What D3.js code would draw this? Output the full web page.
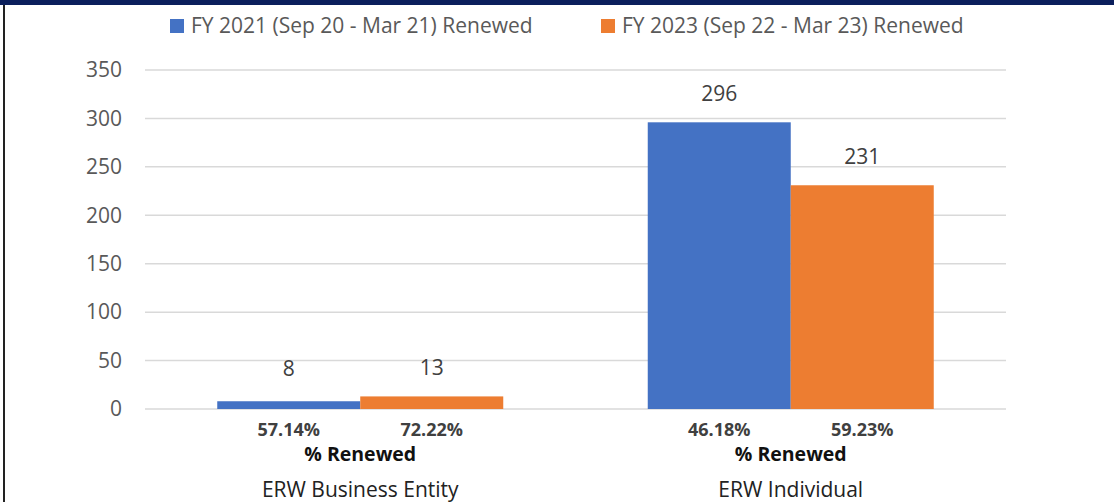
<!DOCTYPE html>
<html>
<head>
<meta charset="utf-8">
<title>ERW Renewals</title>
<script src="https://d3js.org/d3.v7.min.js"></script>
<style>
body { margin: 0; background: #fff; }
svg text { font-family: "Open Sans", "Noto Sans", sans-serif; }
</style>
</head>
<body>
<script>
var width = 1114, height = 502;

var categories = ["ERW Business Entity", "ERW Individual"];
var seriesNames = ["FY 2021 (Sep 20 - Mar 21) Renewed", "FY 2023 (Sep 22 - Mar 23) Renewed"];
var fy2021 = [8, 296];
var fy2023 = [13, 231];
var pct2021 = ["57.14%", "46.18%"];
var pct2023 = ["72.22%", "59.23%"];
var yTicks = [0, 50, 100, 150, 200, 250, 300, 350];
var colors = ["#4472c4", "#ed7d31"];

var margin = {left: 145, right: 108, top: 70, bottom: 93};

var svg = d3.select("body").append("svg")
  .attr("width", width)
  .attr("height", height);

// frame
svg.append("rect").attr("x", 0).attr("y", 0).attr("width", width).attr("height", 5).attr("fill", "#0b1f5c");
svg.append("rect").attr("x", 3).attr("y", 5).attr("width", 2).attr("height", height - 5).attr("fill", "#222");

var x0 = d3.scaleBand().domain(categories)
  .range([margin.left, width - margin.right]);
// each pair of bars is 286px wide, centered in its band
var x1 = d3.scaleBand().domain([0, 1])
  .range([(x0.bandwidth() - 286) / 2, (x0.bandwidth() + 286) / 2]).padding(0);

var y = d3.scaleLinear().domain([0, 350])
  .range([height - margin.bottom, margin.top]);

// gridlines
svg.append("g").selectAll("line").data(yTicks).enter().append("line")
  .attr("x1", margin.left).attr("x2", width - margin.right)
  .attr("y1", d => y(d)).attr("y2", d => y(d))
  .attr("stroke", "#d9d9d9").attr("stroke-width", 1.5);

// y axis labels
var yAxis = d3.axisLeft(y).tickValues(yTicks).tickSize(0).tickPadding(0);
var ya = svg.append("g").attr("transform", "translate(" + (margin.left - 23) + ",0)").call(yAxis);
ya.select(".domain").remove();
ya.selectAll("text").attr("font-size", 21).attr("fill", "#595959")
  .style("font-family", "'Open Sans', sans-serif");

var rows = categories.map((c, i) => ({cat: c, vals: [fy2021[i], fy2023[i]], pcts: [pct2021[i], pct2023[i]]}));

var grp = svg.append("g").selectAll("g").data(rows).enter().append("g")
  .attr("transform", d => "translate(" + x0(d.cat) + ",0)");

grp.selectAll("rect").data(d => d.vals).enter().append("rect")
  .attr("x", (v, j) => x1(j))
  .attr("width", x1.bandwidth())
  .attr("y", v => y(v))
  .attr("height", v => y(0) - y(v))
  .attr("fill", (v, j) => colors[j]);

grp.selectAll("text.val").data(d => d.vals).enter().append("text")
  .attr("class", "val")
  .attr("x", (v, j) => x1(j) + x1.bandwidth() / 2)
  .attr("y", v => Math.min(y(v) - 21, y(0) - 33))
  .attr("text-anchor", "middle")
  .attr("font-size", 21).attr("fill", "#404040")
  .text(v => v);

grp.selectAll("text.pct").data(d => d.pcts).enter().append("text")
  .attr("class", "pct")
  .attr("x", (v, j) => x1(j) + x1.bandwidth() / 2)
  .attr("y", y(0) + 27)
  .attr("text-anchor", "middle")
  .attr("font-size", 18).attr("font-weight", "bold").attr("fill", "#404040")
  .text(v => v);

grp.append("text")
  .attr("x", x0.bandwidth() / 2)
  .attr("y", y(0) + 52)
  .attr("text-anchor", "middle")
  .attr("font-size", 19.5).attr("font-weight", "bold").attr("fill", "#111")
  .text("% Renewed");

grp.append("text")
  .attr("x", x0.bandwidth() / 2)
  .attr("y", y(0) + 88)
  .attr("text-anchor", "middle")
  .attr("font-size", 21).attr("fill", "#222")
  .text(d => d.cat);

// legend
var legX = [170, 601];
var leg = svg.append("g").selectAll("g").data(seriesNames).enter().append("g")
  .attr("transform", (d, i) => "translate(" + legX[i] + ",19)");
leg.append("rect").attr("width", 14).attr("height", 14).attr("fill", (d, i) => colors[i]);
leg.append("text").attr("x", 21).attr("y", 14)
  .attr("font-size", 21).attr("fill", "#595959")
  .text(d => d);
</script>
</body>
</html>
